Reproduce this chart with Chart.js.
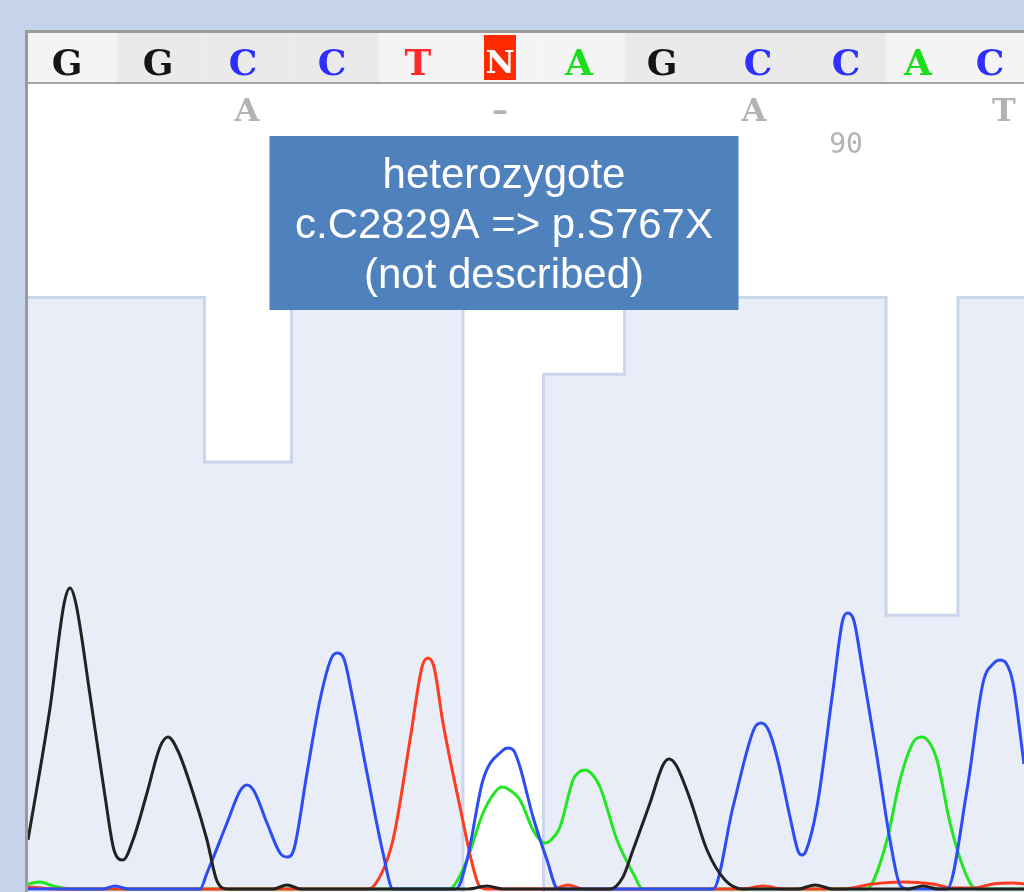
<!DOCTYPE html>
<html>
<head>
<meta charset="utf-8">
<script src="https://cdn.jsdelivr.net/npm/chart.js@4.4.0/dist/chart.umd.min.js"></script>
<style>
  html, body { margin: 0; padding: 0; width: 1024px; height: 892px; overflow: hidden; background: #c5d3eb; }
  #frame { position: absolute; left: 25px; top: 30px; width: 1100px; height: 1000px;
           border-left: 3px solid #9b9b9b; border-top: 3px solid #9b9b9b; background: #fff; }
  #wrap { position: absolute; left: 0; top: 0; width: 996px; height: 900px; }
</style>
</head>
<body>
<div id="frame"><div id="wrap"><canvas id="trace"></canvas></div></div>
<script>
// base calls, their scan positions and phred-like quality
var bases    = ['G', 'G', 'C', 'C', 'T', 'N', 'A', 'G', 'C', 'C', 'A', 'C'];
var basePos  = [43, 134, 219, 308, 394, 476, 555, 638, 734, 822, 894, 966];
var quality  = [55, 55, 40, 55, 55, 0, 48, 55, 55, 55, 26, 55];
var firstBaseNo = 81;

// translation row
var aminoAcids = ['A', '\u2013', 'A', 'T'];
var aminoPos   = [223, 476, 730, 980];

var note = ['heterozygote', 'c.C2829A => p.S767X', '(not described)'];
var noteBase = 5;

// trace signal [scan, intensity]
var traceG = [[0,49],[22,181],[36,285],[42,301],[48,285],[62,194],[77,93],[86,39],[95,29],[105,49],[119,96],[132,142],[140,152],[150,138],[165,96],[179,49],[189,8],[200,0],
  [245,0],[259,4],[273,0],[440,0],[459,3],[475,0],[582,0],[595,12],[605,39],[622,86],[635,124],[641,130],[648,124],[662,90],[679,39],[697,9],[715,0],
  [770,0],[787,4],[805,0],[880,0],[895,3],[910,0],[996,0]];
var traceC = [[0,0],[75,0],[87,3],[100,0],[172,0],[179,16],[199,66],[212,98],[219,104],[226,98],[239,66],[252,36],[259,32],[266,40],[279,116],[292,189],[303,230],[309,236],[316,230],[325,189],[339,116],[355,36],[365,0],
  [428,0],[439,29],[455,109],[474,138],[480,141],[486,138],[492,122],[505,72],[519,29],[530,0],
  [685,0],[705,82],[726,160],[733,166],[740,160],[749,132],[762,72],[770,38],[774,34],[778,38],[789,82],[805,199],[815,270],[820,276],[826,268],[835,216],[849,132],[862,49],[872,4],[880,0],
  [919,0],[939,99],[955,206],[966,226],[972,229],[978,226],[985,206],[996,125]];
var traceT = [[0,2],[30,0],[340,0],[345,2],[365,49],[382,149],[394,222],[400,231],[406,222],[415,166],[432,82],[445,22],[452,2],[460,0],
  [525,0],[540,4],[555,0],[715,0],[735,3],[755,0],[815,0],[845,5],[875,7],[905,5],[925,1],[945,1],[965,5],[985,6],[996,5]];
var traceA = [[0,5],[12,7],[25,3],[42,0],[420,0],[425,2],[439,29],[455,76],[468,98],[474,102],[480,100],[492,89],[505,59],[512,49],[517,46],[523,49],[532,62],[545,109],[551,117],[557,119],[563,116],[572,102],[589,49],[605,16],[615,0],
  [838,0],[842,2],[859,49],[872,109],[886,148],[894,152],[901,147],[909,129],[922,66],[935,22],[945,2],[952,0],[996,0]];

var xMin = 0, xMax = 996;
var baseColor = { G: '#151515', C: '#2e2eff', T: '#ff2b2b', A: '#1ade1a' };

function pts(arr) {
    return arr.map(function (p) { return { x: p[0], y: p[1] }; });
}

var qualityData = [{ x: xMin, y: quality[0] }];
basePos.forEach(function (p, i) { qualityData.push({ x: p, y: quality[i] }); });
qualityData.push({ x: xMax, y: quality[quality.length - 1] });

function traceSet(data, color) {
    return {
        data: pts(data), borderColor: color, borderWidth: 3, pointRadius: 0,
        fill: false, cubicInterpolationMode: 'monotone', yAxisID: 'y', order: 0
    };
}

// header row, translation, numbering and the note box
var seqPlugin = {
    id: 'seqHeader',
    afterDraw: function (chart) {
        var ctx = chart.ctx;
        var xs = chart.scales.x;
        var shift = -4;
        var px = basePos.map(function (p) { return xs.getPixelForValue(p); });

        ctx.save();
        for (var i = 0; i < bases.length; i++) {
            var left = i === 0 ? 0 : (px[i - 1] + px[i]) / 2;
            var right = i === bases.length - 1 ? chart.width : (px[i] + px[i + 1]) / 2;
            var codon = Math.floor((i + 2) / 3);
            ctx.fillStyle = codon % 2 === 0 ? '#f4f4f4' : '#eaeaea';
            ctx.fillRect(left, 0, right - left, 49);
        }
        ctx.fillStyle = '#a3a3a3';
        ctx.fillRect(0, 49, chart.width, 2);

        ctx.textAlign = 'center';
        ctx.textBaseline = 'alphabetic';
        ctx.font = 'bold 36px "DejaVu Serif"';
        bases.forEach(function (b, i) {
            var x = px[i] + shift;
            if (b === 'N') {
                ctx.fillStyle = '#ff2a00';
                ctx.fillRect(x - 16, 2, 32, 45);
                ctx.fillStyle = '#ffffff';
                ctx.font = 'bold 32px "DejaVu Serif"';
                ctx.fillText(b, x, 40);
                ctx.font = 'bold 36px "DejaVu Serif"';
                return;
            }
            ctx.fillStyle = baseColor[b];
            ctx.fillText(b, x, 42);
        });

        ctx.fillStyle = '#b3b3b3';
        ctx.font = 'bold 32px "DejaVu Serif"';
        aminoAcids.forEach(function (a, i) {
            ctx.fillText(a, xs.getPixelForValue(aminoPos[i]) + shift, 88);
        });

        ctx.font = '28px "DejaVu Sans Mono"';
        bases.forEach(function (b, i) {
            var n = firstBaseNo + i;
            if (n % 10 === 0) ctx.fillText(String(n), px[i] + shift, 120);
        });

        // note
        var cx = px[noteBase];
        ctx.fillStyle = '#4f81bd';
        ctx.fillRect(cx - 234.5, 103, 469, 174);
        ctx.fillStyle = '#ffffff';
        ctx.font = '42px "Liberation Sans"';
        note.forEach(function (line, i) {
            ctx.fillText(line, cx, 155 + i * 50);
        });
        ctx.restore();
    }
};

var ctx = document.getElementById('trace').getContext('2d');
var traceChart = new Chart(ctx, {
    type: 'line',
    data: {
        datasets: [
            traceSet(traceG, '#222222'),
            traceSet(traceC, '#2c4cf6'),
            traceSet(traceT, '#ff3b20'),
            traceSet(traceA, '#22e622'),
            {
                data: qualityData, stepped: 'middle', fill: 'origin',
                backgroundColor: '#e8edf7', borderColor: '#cad6ec', borderWidth: 3,
                pointRadius: 0, yAxisID: 'yq', order: 10
            }
        ]
    },
    options: {
        responsive: true,
        maintainAspectRatio: false,
        animation: false,
        layout: { padding: { top: 51, left: 0, right: 0, bottom: 0 } },
        plugins: { legend: { display: false }, tooltip: { enabled: false } },
        scales: {
            x: { type: 'linear', min: xMin, max: xMax, display: false },
            y: { min: -44, max: 805, display: false },
            yq: { min: -3, max: 74.5, display: false }
        }
    },
    plugins: [seqPlugin]
});
</script>
</body>
</html>
